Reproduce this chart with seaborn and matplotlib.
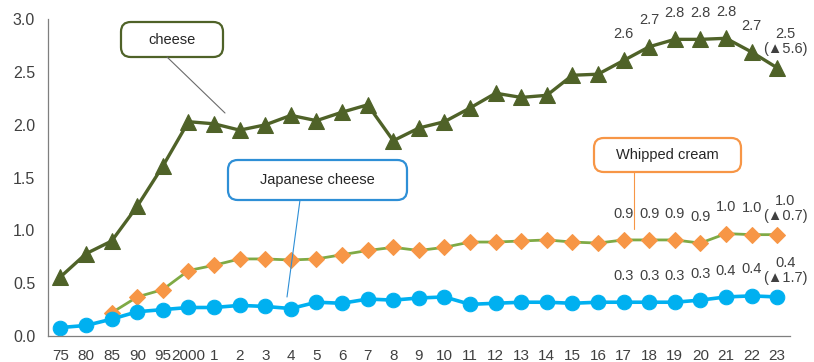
import numpy as np
import pandas as pd
import matplotlib
matplotlib.use("Agg")
import matplotlib.pyplot as plt
from matplotlib.patches import FancyBboxPatch
from matplotlib.lines import Line2D
import seaborn as sns

# ---- data ----
years = ["75", "80", "85", "90", "95", "2000"] + [str(i) for i in range(1, 24)]
cheese = [0.56, 0.78, 0.90, 1.23, 1.61, 2.03, 2.01, 1.95, 2.00, 2.09, 2.04, 2.12,
          2.19, 1.85, 1.97, 2.03, 2.16, 2.30, 2.26, 2.28, 2.47, 2.48, 2.61, 2.74,
          2.81, 2.81, 2.82, 2.69, 2.54]
whipped = [np.nan, np.nan, 0.22, 0.37, 0.44, 0.62, 0.67, 0.73, 0.73, 0.72, 0.73,
           0.77, 0.81, 0.84, 0.81, 0.84, 0.89, 0.89, 0.90, 0.91, 0.89, 0.88, 0.91,
           0.91, 0.91, 0.88, 0.97, 0.96, 0.96]
japanese = [0.08, 0.10, 0.16, 0.23, 0.25, 0.27, 0.27, 0.29, 0.28, 0.26, 0.32, 0.31,
            0.35, 0.34, 0.36, 0.37, 0.30, 0.31, 0.32, 0.32, 0.31, 0.32, 0.32, 0.32,
            0.32, 0.34, 0.37, 0.38, 0.37]
label_start = 22  # year "17"
cheese_labels = ["2.6", "2.7", "2.8", "2.8", "2.8", "2.7", "2.5\n(▲5.6)"]
whipped_labels = ["0.9", "0.9", "0.9", "0.9", "1.0", "1.0", "1.0\n(▲0.7)"]
japanese_labels = ["0.3", "0.3", "0.3", "0.3", "0.4", "0.4", "0.4\n(▲1.7)"]
series_names = ["cheese", "Japanese cheese", "Whipped cream"]

sns.set_style("white")
plt.rcParams["font.family"] = ["Liberation Sans", "DejaVu Sans"]

df = pd.DataFrame({"idx": np.arange(len(years)), "cheese": cheese,
                   "whipped": whipped, "japanese": japanese})

W, H = 814, 362
fig = plt.figure(figsize=(W / 100, H / 100), dpi=100)
ax = fig.add_axes([47.7 / W, 1 - 336 / H, (790 - 47.7) / W, (336 - 19.3) / H])

C_CHEESE = "#4F6228"
C_BLUE = "#00B0F0"
C_WLINE = "#7FAA45"
C_WMARK = "#F79646"

sns.lineplot(data=df, x="idx", y="cheese", ax=ax, color=C_CHEESE, lw=2.4,
             marker="^", markersize=11, markerfacecolor=C_CHEESE,
             markeredgecolor=C_CHEESE)
sns.lineplot(data=df.dropna(subset=["whipped"]), x="idx", y="whipped", ax=ax,
             color=C_WLINE, lw=2.0, marker="D", markersize=8,
             markerfacecolor=C_WMARK, markeredgecolor=C_WMARK)
sns.lineplot(data=df, x="idx", y="japanese", ax=ax, color=C_BLUE, lw=2.6,
             marker="o", markersize=10.5, markerfacecolor=C_BLUE,
             markeredgecolor=C_BLUE)

ax.set_xlim(-0.5, len(years) - 0.5)
ax.set_ylim(0, 3.0)
ax.set_xlabel("")
ax.set_ylabel("")
ax.set_xticks(np.arange(len(years)))
ax.set_xticklabels(years)
ax.set_xticks(np.arange(-0.5, len(years), 1), minor=True)
ax.set_yticks(np.arange(0, 3.01, 0.5))
ax.set_yticklabels([f"{v:.1f}" for v in np.arange(0, 3.01, 0.5)])
ax.tick_params(axis="x", which="major", length=0, pad=9, labelsize=11,
               labelcolor="#404040")
ax.tick_params(axis="x", which="minor", direction="in", length=5,
               color="#7F7F7F", width=0.8)
ax.tick_params(axis="y", which="major", direction="out", length=4, pad=5,
               labelsize=11.5, labelcolor="#404040", color="#7F7F7F", width=0.8)
for s in ["top", "right"]:
    ax.spines[s].set_visible(False)
for s in ["left", "bottom"]:
    ax.spines[s].set_color("#7F7F7F")
    ax.spines[s].set_linewidth(0.9)

# data labels
def put_labels(vals, labels):
    for k, lab in enumerate(labels):
        i = label_start + k
        last = "\n" in lab
        ax.annotate(lab, (i, vals[i]), xytext=(6 if last else 0, 19),
                    textcoords="offset points", ha="center", va="center",
                    fontsize=10.5, color="#404040", linespacing=1.05,
                    family=["Liberation Sans", "DejaVu Sans"])

put_labels(cheese, cheese_labels)
put_labels(whipped, whipped_labels)
put_labels(japanese, japanese_labels)

# callouts (pixel boxes)
def px(x, y):
    return x / W, 1 - y / H

def callout(text, x0, y0, x1, y1, color, line_from, line_to, line_color):
    fx0, fy1 = px(x0, y1)
    fx1, fy0 = px(x1, y0)
    line = Line2D([line_from[0] / W, line_to[0] / W],
                  [1 - line_from[1] / H, 1 - line_to[1] / H],
                  transform=fig.transFigure, color=line_color, lw=0.8)
    fig.add_artist(line)
    box = FancyBboxPatch((fx0, fy1), fx1 - fx0, fy0 - fy1,
                         boxstyle="round,pad=0,rounding_size=0.012",
                         transform=fig.transFigure, facecolor="white",
                         edgecolor=color, lw=1.6, mutation_aspect=W / H)
    fig.add_artist(box)
    fig.text((fx0 + fx1) / 2, (fy0 + fy1) / 2, text, ha="center", va="center",
             fontsize=10.5, color="#262626")

callout(series_names[0], 121, 22, 223, 57, C_CHEESE, (167, 57), (225, 113), "#6B6B6B")
callout(series_names[1], 228, 160, 407, 200, "#2E8FD6", (300, 200), (287, 297), "#2E8FD6")
callout(series_names[2], 594, 138, 741, 172, C_WMARK, (634, 172), (634, 229), C_WMARK)

fig.savefig("out.png", dpi=100)
